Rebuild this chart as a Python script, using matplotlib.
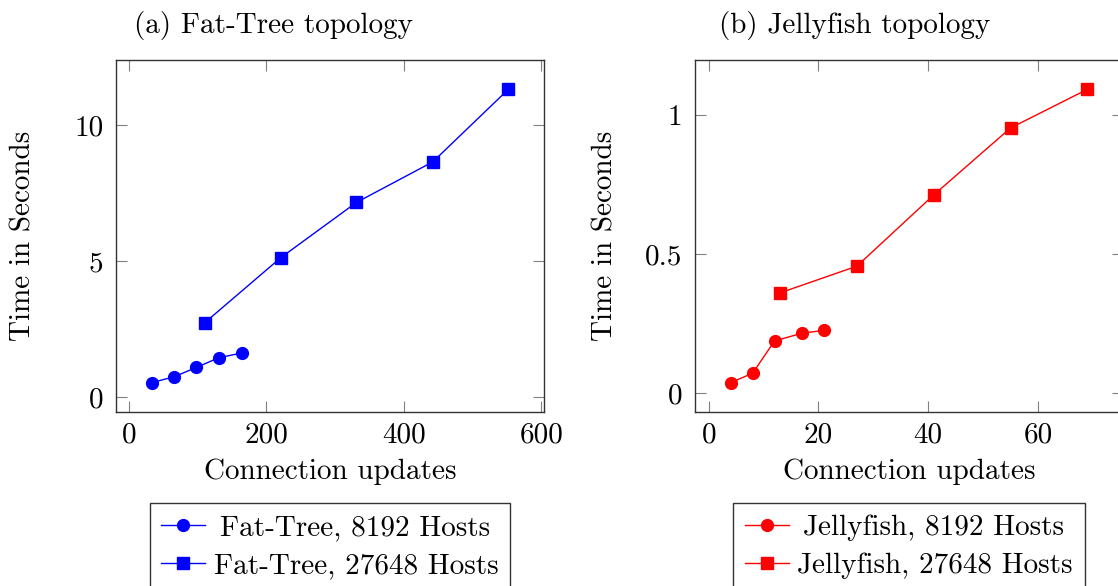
import matplotlib
matplotlib.use("Agg")
import matplotlib.pyplot as plt

# Computer Modern look, shipped with matplotlib
plt.rcParams['font.family'] = ['cmr10', 'DejaVu Serif']
plt.rcParams['mathtext.fontset'] = 'cm'
plt.rcParams['axes.unicode_minus'] = False

# Fat-Tree measurements
ft_small_x = [33, 66, 98, 131, 164]
ft_small_y = [0.53, 0.75, 1.09, 1.45, 1.62]
ft_large_x = [110, 221, 331, 442, 552]
ft_large_y = [2.73, 5.13, 7.16, 8.65, 11.32]

# Jellyfish measurements
jf_small_x = [4, 8, 12, 17, 21]
jf_small_y = [0.037, 0.071, 0.187, 0.215, 0.225]
jf_large_x = [13, 27, 41, 55, 69]
jf_large_y = [0.360, 0.456, 0.712, 0.953, 1.092]

ft_xticks = [0, 200, 400, 600]
ft_yticks = [0, 5, 10]
jf_xticks = [0, 20, 40, 60]
jf_yticks = [0, 0.5, 1]
jf_yticklabels = ['0', '0.5', '1']

FS = 21
W, H = 1118, 586

fig = plt.figure(figsize=(W / 100, H / 100), dpi=100)
ax1 = fig.add_axes([116 / W, 1 - 412 / H, 428 / W, 352 / H])
ax2 = fig.add_axes([695 / W, 1 - 412 / H, 428 / W, 352 / H])


def style_axes(ax, xticks, yticks, yticklabels=None):
    ax.margins(0.1)
    ax.set_xticks(xticks)
    ax.set_xticklabels([str(t) for t in xticks])
    ax.set_yticks(yticks)
    ax.set_yticklabels(yticklabels if yticklabels else [str(t) for t in yticks])
    ax.tick_params(direction='in', length=8, width=0.8, color='#808080',
                   labelsize=FS, top=True, right=True, labelcolor='black')
    ax.tick_params(axis='x', pad=7)
    ax.tick_params(axis='y', pad=9)
    for sp in ax.spines.values():
        sp.set_color('#333333')
        sp.set_linewidth(1.0)


def add_legend(ax):
    leg = ax.legend(loc='upper center', bbox_to_anchor=(0.5, -0.2585),
                    borderaxespad=0, fontsize=FS, fancybox=False, framealpha=1,
                    edgecolor='#333333', handlelength=1.5, handletextpad=0.3,
                    borderpad=0.4, labelspacing=0.4)
    leg.get_frame().set_linewidth(1.0)
    # first entry is centred in its cell
    leg.get_texts()[0].set_x(6)
    return leg


# (a) Fat-Tree
ax1.plot(ft_small_x, ft_small_y, color='blue', lw=1.0, marker='o', ms=8.5,
         label='Fat-Tree, 8192 Hosts')
ax1.plot(ft_large_x, ft_large_y, color='blue', lw=1.0, marker='s', ms=8.5,
         label='Fat-Tree, 27648 Hosts')
style_axes(ax1, ft_xticks, ft_yticks)
add_legend(ax1)

# (b) Jellyfish
ax2.plot(jf_small_x, jf_small_y, color='red', lw=1.0, marker='o', ms=8.5,
         label='Jellyfish, 8192 Hosts')
ax2.plot(jf_large_x, jf_large_y, color='red', lw=1.0, marker='s', ms=8.5,
         label='Jellyfish, 27648 Hosts')
style_axes(ax2, jf_xticks, jf_yticks, jf_yticklabels)
add_legend(ax2)

# captions and axis labels
fig.text(273.5 / W, 1 - 33 / H, '(a) Fat-Tree topology', ha='center', va='baseline', fontsize=FS)
fig.text(855 / W, 1 - 33 / H, '(b) Jellyfish topology', ha='center', va='baseline', fontsize=FS)
fig.text(330 / W, 1 - 479 / H, 'Connection updates', ha='center', va='baseline', fontsize=FS)
fig.text(909 / W, 1 - 479 / H, 'Connection updates', ha='center', va='baseline', fontsize=FS)
fig.text(23.5 / W, 1 - 236 / H, 'Time in Seconds', ha='center', va='center', rotation=90, fontsize=FS)
fig.text(605 / W, 1 - 236 / H, 'Time in Seconds', ha='center', va='center', rotation=90, fontsize=FS)

fig.savefig('out.png', dpi=100)
